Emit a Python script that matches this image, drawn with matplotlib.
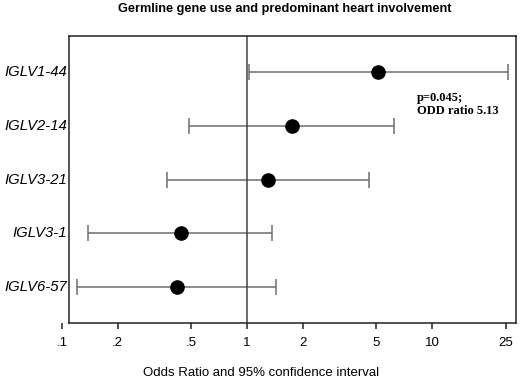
import numpy as np
import matplotlib.pyplot as plt

genes = ['IGLV1-44', 'IGLV2-14', 'IGLV3-21', 'IGLV3-1', 'IGLV6-57']
odds = [5.13, 1.75, 1.30, 0.44, 0.418]
lower = [1.025, 0.488, 0.368, 0.139, 0.12]
upper = [25.7, 6.26, 4.55, 1.365, 1.43]
xticks = [0.1, 0.2, 0.5, 1, 2, 5, 10, 25]
xticklabels = ['.1', '.2', '.5', '1', '2', '5', '10', '25']

plt.rcParams['font.family'] = ['Liberation Sans', 'DejaVu Sans']

fig = plt.figure(figsize=(5.2, 3.83), dpi=100)
ax = fig.add_axes([62/520, 60/383, 454/520, 287/383])

y = np.arange(1, len(genes) + 1)
odds = np.array(odds)
lower = np.array(lower)
upper = np.array(upper)
ax.errorbar(odds, y, xerr=[odds - lower, upper - odds], fmt='none',
            ecolor='#6e6e6e', elinewidth=1.1, capsize=5.5, capthick=1.1)
ax.plot(odds, y, 'o', color='black', markersize=9.5, zorder=3)
ax.axvline(1, color='#444444', lw=1.1)

ax.set_xscale('log')
x0 = 10 ** ((69 - 247) / 185)
ax.set_xlim(0.1, 10 ** ((516 - 247) / 185))
ax.set_ylim(5.66, 0.34)
ax.set_xticks(xticks)
ax.set_xticklabels(xticklabels)
ax.minorticks_off()
ax.set_yticks(y)
ax.set_yticklabels([])
# italic gene labels, right-aligned just left of the box
for yi, g in zip(y, genes):
    ax.text(0.011, yi, g, transform=ax.get_yaxis_transform(), ha='right', va='center',
            fontsize=10.7, fontstyle='italic', family='Liberation Sans')

ax.spines['left'].set_position(('data', x0))
ax.spines['bottom'].set_bounds(x0, ax.get_xlim()[1])
ax.spines['top'].set_bounds(x0, ax.get_xlim()[1])
for s in ax.spines.values():
    s.set_linewidth(1.1)
    s.set_color('#222222')

ax.tick_params(axis='x', length=4, width=1.1, labelsize=9.5, pad=6, color='#222222')
ax.tick_params(axis='y', length=0)

ax.text(10 ** ((417 - 247) / 185), 1.37, 'p=0.045;\nODD ratio 5.13',
        family='Liberation Serif', fontweight='bold', fontsize=9,
        va='top', ha='left', linespacing=1.15)

fig.text(261/520, 1 - 373/383, 'Odds Ratio and 95% confidence interval',
         ha='center', va='center', fontsize=9.5)
fig.text(285/520, 1 - 9/383, 'Germline gene use and predominant heart involvement',
         ha='center', va='center', fontsize=9.2, fontweight='bold')

fig.savefig('out.png', dpi=100)
